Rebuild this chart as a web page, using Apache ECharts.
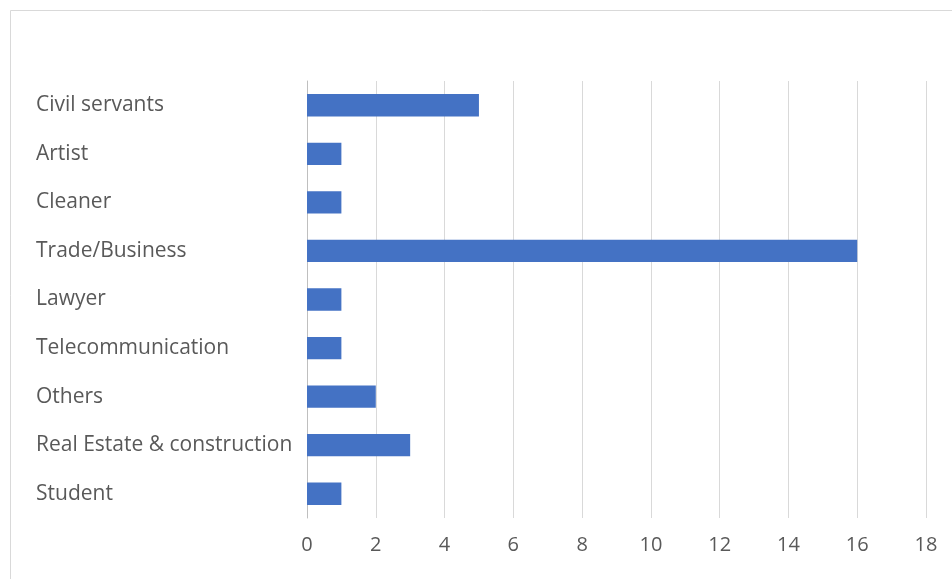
<!DOCTYPE html>
<html>
<head>
<meta charset="utf-8">
<script src="https://cdn.jsdelivr.net/npm/echarts@6/dist/echarts.min.js"></script>
<style>
  html, body { margin: 0; padding: 0; background: #fff; }
  #chart { width: 952px; height: 579px; }
</style>
</head>
<body>
<div id="chart"></div>
<script>
// Occupations (top to bottom) and respondent counts
const categories = [
  'Civil servants', 'Artist', 'Cleaner', 'Trade/Business', 'Lawyer',
  'Telecommunication', 'Others', 'Real Estate & construction', 'Student'
];
const counts = [5, 1, 1, 16, 1, 1, 2, 3, 1];
const axisMin = 0;
const axisMax = 18;
const axisStep = 2;

const chart = echarts.init(document.getElementById('chart'));
const labelFont = 'Open Sans, Liberation Sans, sans-serif';

chart.setOption({
  animation: false,
  backgroundColor: '#ffffff',
  graphic: [{
    type: 'rect',
    shape: { x: 10.5, y: 10.5, width: 1000, height: 1000 },
    style: { fill: 'none', stroke: '#d9d9d9', lineWidth: 1 },
    silent: true
  }],
  grid: { left: 307, right: 26, top: 81, bottom: 61, containLabel: false },
  xAxis: {
    type: 'value',
    min: axisMin,
    max: axisMax,
    interval: axisStep,
    axisLine: { show: false },
    axisTick: { show: false },
    splitLine: { lineStyle: { color: '#d9d9d9', width: 1 } },
    axisLabel: { color: '#595959', fontSize: 20, fontFamily: labelFont, margin: 17 }
  },
  yAxis: {
    type: 'category',
    data: categories,
    inverse: true,
    axisLine: { show: true, lineStyle: { color: '#bfbfbf', width: 1 } },
    axisTick: { show: false },
    axisLabel: {
      color: '#595959', fontSize: 21, fontFamily: labelFont,
      align: 'left', margin: 271
    }
  },
  series: [{
    type: 'bar',
    data: counts,
    barWidth: '46%',
    itemStyle: { color: '#4472c4' }
  }]
});
</script>
</body>
</html>
